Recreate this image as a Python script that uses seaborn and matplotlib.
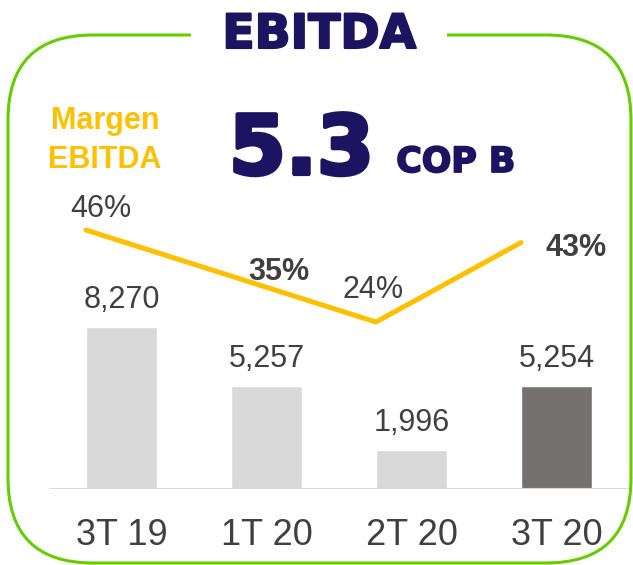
import matplotlib.pyplot as plt
import matplotlib.patheffects as pe
from matplotlib.patches import FancyBboxPatch, Rectangle
import seaborn as sns
import numpy as np
import pandas as pd

# data
quarters = ['3T 19', '1T 20', '2T 20', '3T 20']
ebitda = [8270, 5257, 1996, 5254]
margin = [46, 35, 24, 43]
margin_bold = [False, True, False, True]
headline_value = '5.3'
headline_unit = 'COP B'

NAVY = '#1d1461'
GOLD = '#ffc000'
GREEN = '#66cc00'
TEXT = '#404040'
bar_colors = ['#d9d9d9', '#d9d9d9', '#d9d9d9', '#767171']

# label offsets in pixels from each line point (x, y)
pct_offsets = [(14.5, 13), (47.5, -4), (-3, 24), (55, -13)]

sns.set_style('white')
plt.rcParams['font.family'] = ['Liberation Sans', 'DejaVu Sans']

fig = plt.figure(figsize=(6.33, 5.65), dpi=100)

# background layer in pixel coordinates: rounded frame + headline texts
bg = fig.add_axes([0, 0, 1, 1], zorder=0)
bg.set_xlim(0, 633)
bg.set_ylim(565, 0)
bg.axis('off')
bg.add_patch(FancyBboxPatch((8, 35), 623, 528, boxstyle='round,pad=0,rounding_size=85',
                            fill=False, edgecolor=GREEN, linewidth=2.2))
bg.add_patch(Rectangle((191, 20), 256, 30, facecolor='white', edgecolor='none', zorder=3))
bg.text(319.5, 48, 'EBITDA', fontsize=34, fontweight='bold', family='DejaVu Sans', color=NAVY,
        ha='center', va='baseline', zorder=4,
        path_effects=[pe.withStroke(linewidth=1.5, foreground=NAVY)])
bg.text(301.5, 174, headline_value, fontsize=59, fontweight='bold', family='DejaVu Sans',
        color=NAVY, ha='center', va='baseline',
        path_effects=[pe.withStroke(linewidth=3, foreground=NAVY)])
bg.text(456, 172, headline_unit, fontsize=25, fontweight='bold', family='DejaVu Sans',
        color=NAVY, ha='center', va='baseline',
        path_effects=[pe.withStroke(linewidth=1.3, foreground=NAVY)])
bg.text(105, 129, 'Margen', fontsize=22, fontweight='bold', color=GOLD, ha='center', va='baseline')
bg.text(105, 168, 'EBITDA', fontsize=22, fontweight='bold', color=GOLD, ha='center', va='baseline')

# bars
ax = fig.add_axes([49 / 633, 76 / 565, 580 / 633, 299 / 565], zorder=2)
ax.patch.set_alpha(0)
df = pd.DataFrame({'quarter': quarters, 'ebitda': ebitda})
sns.barplot(data=df, x='quarter', y='ebitda', hue='quarter', palette=bar_colors,
            width=0.49, saturation=1, legend=False, ax=ax)
ax.set_xlim(-0.5, 3.5)
ax.set_ylim(0, 15264)
ax.axhline(0, color='#d9d9d9', lw=1.5, zorder=3)
for i, v in enumerate(ebitda):
    ax.annotate(f'{v:,}', (i, v), xytext=(0, 19), textcoords='offset pixels',
                ha='center', va='baseline', fontsize=22, color=TEXT)

# margin line on a second axis
ax2 = ax.twinx()
line_x = np.arange(len(quarters)) - 0.49 / 2
sns.lineplot(x=line_x, y=margin, ax=ax2, color=GOLD, linewidth=3.6, solid_capstyle='round')
ax2.set_ylim(-15.93, 55.57)
for x, m, b, off in zip(line_x, margin, margin_bold, pct_offsets):
    ax2.annotate(f'{m}%', (x, m), xytext=off, textcoords='offset pixels', ha='center',
                 va='baseline', fontsize=22, color=TEXT, fontweight='bold' if b else 'normal')

ax.set_xticks(range(len(quarters)))
ax.set_xticklabels(quarters, fontsize=26, color=TEXT)
ax.tick_params(axis='x', length=0, pad=21)
ax.set_yticks([])
ax2.set_yticks([])
ax.set_xlabel('')
ax.set_ylabel('')
for a in (ax, ax2):
    for s in a.spines.values():
        s.set_visible(False)

fig.savefig('out.png', dpi=100)
